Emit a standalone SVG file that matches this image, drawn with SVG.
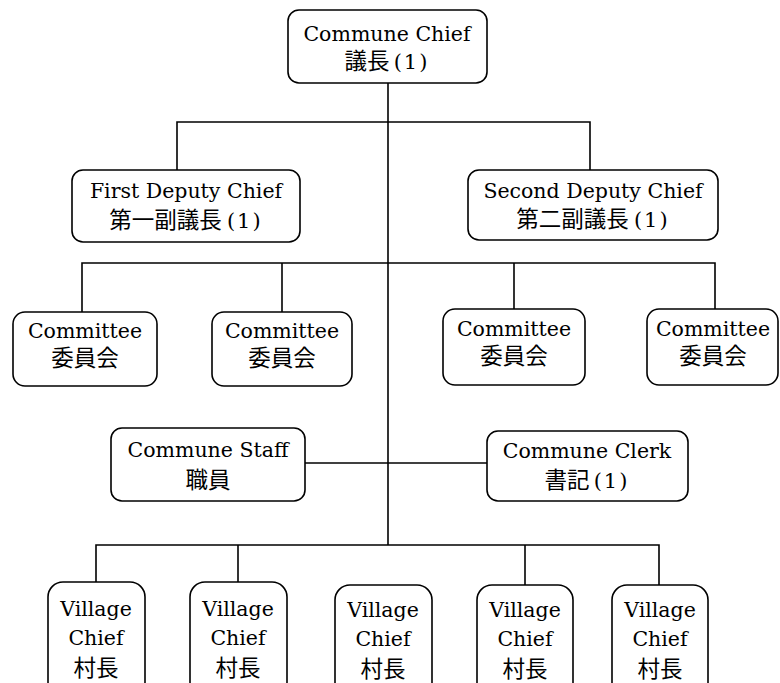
<svg xmlns="http://www.w3.org/2000/svg" width="780" height="683" viewBox="0 0 780 683">
<style>
.box{fill:#fff;stroke:#000;stroke-width:1.6}
.ln{fill:none;stroke:#000;stroke-width:1.6}
text{font-family:"DejaVu Serif","Noto Sans CJK JP",serif;font-size:20.5px;fill:#000;text-anchor:middle}
.cj{font-family:"Noto Sans CJK JP","DejaVu Serif",sans-serif;font-size:22.5px}
.p{font-family:"DejaVu Serif",serif;font-size:21px;letter-spacing:2px}
</style>
<rect width="780" height="683" fill="#fff"/>
<g id="connectors" class="ln">
<path d="M388 83V545"/>
<path d="M177 170V122H590V170"/>
<path d="M82 312V263H715V309"/>
<path d="M282 263V312"/>
<path d="M514 263V309"/>
<path d="M305 463H487"/>
<path d="M96 582V545H659V585"/>
<path d="M238 545V582"/>
<path d="M525 545V585"/>
</g>
<g id="commune-chief"><rect class="box" x="288" y="10" width="199" height="73" rx="11"/><text x="387" y="41">Commune Chief</text><text x="387" y="69" class="cj">議長<tspan class="p" dx="4">(1)</tspan></text></g>
<g id="first-deputy"><rect class="box" x="72" y="170" width="228" height="72" rx="11"/><text x="186" y="198">First Deputy Chief</text><text x="186" y="228" class="cj">第一副議長<tspan class="p" dx="5">(1)</tspan></text></g>
<g id="second-deputy"><rect class="box" x="468" y="170" width="250" height="70" rx="11"/><text x="593" y="198">Second Deputy Chief</text><text x="593" y="227" class="cj">第二副議長<tspan class="p" dx="5">(1)</tspan></text></g>
<g id="committee-1"><rect class="box" x="13" y="312" width="144" height="74" rx="12"/><text x="85" y="338">Committee</text><text x="85" y="366" class="cj">委員会</text></g>
<g id="committee-2"><rect class="box" x="212" y="312" width="140" height="74" rx="12"/><text x="282" y="338">Committee</text><text x="282" y="366" class="cj">委員会</text></g>
<g id="committee-3"><rect class="box" x="443" y="309" width="142" height="76" rx="12"/><text x="514" y="336">Committee</text><text x="514" y="364" class="cj">委員会</text></g>
<g id="committee-4"><rect class="box" x="647" y="309" width="131" height="76" rx="12"/><text x="713" y="336">Committee</text><text x="713" y="364" class="cj">委員会</text></g>
<g id="commune-staff"><rect class="box" x="111" y="428" width="194" height="73" rx="11"/><text x="208" y="457">Commune Staff</text><text x="208" y="488" class="cj">職員</text></g>
<g id="commune-clerk"><rect class="box" x="487" y="431" width="201" height="70" rx="11"/><text x="587" y="458">Commune Clerk</text><text x="587" y="488" class="cj">書記<tspan class="p" dx="4">(1)</tspan></text></g>
<g id="village-1"><rect class="box" x="48" y="582" width="97" height="115" rx="15"/><text x="96" y="616">Village</text><text x="96" y="645">Chief</text><text x="96" y="676" class="cj">村長</text></g>
<g id="village-2"><rect class="box" x="190" y="582" width="97" height="115" rx="15"/><text x="238" y="616">Village</text><text x="238" y="645">Chief</text><text x="238" y="676" class="cj">村長</text></g>
<g id="village-3"><rect class="box" x="335" y="585" width="97" height="115" rx="15"/><text x="383" y="617">Village</text><text x="383" y="646">Chief</text><text x="383" y="677" class="cj">村長</text></g>
<g id="village-4"><rect class="box" x="477" y="585" width="96" height="115" rx="15"/><text x="525" y="617">Village</text><text x="525" y="646">Chief</text><text x="525" y="677" class="cj">村長</text></g>
<g id="village-5"><rect class="box" x="612" y="585" width="96" height="115" rx="15"/><text x="660" y="617">Village</text><text x="660" y="646">Chief</text><text x="660" y="677" class="cj">村長</text></g>
</svg>
